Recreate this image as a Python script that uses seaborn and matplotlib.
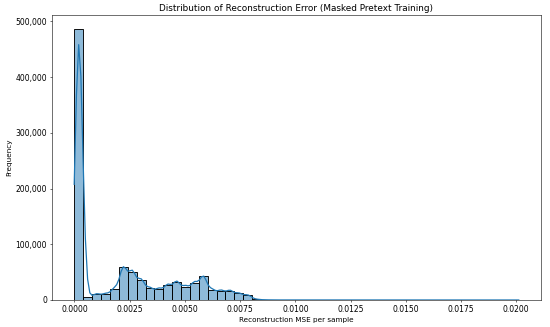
import numpy as np
import pandas as pd
import seaborn as sns
import matplotlib
matplotlib.use("Agg")
import matplotlib.pyplot as plt
from matplotlib.ticker import StrMethodFormatter

# ------------------------------- datos (leidos) ------------------------------ #
X_MIN = 0.0
X_MAX = 0.0201
N_BINS = 50

# cuentas por bin
conteos = [
    487000, 5000, 11000, 11000, 20000, 59000, 51000, 36000, 21000, 20000,
    27000, 33000, 24000, 31000, 43000, 18000, 17000, 17000, 12000, 9000,
    1200, 300, 120, 80, 60, 40, 30, 25, 20, 15,
    12, 10, 8, 6, 5, 4, 4, 3, 3, 2,
    2, 2, 1, 1, 1, 1, 1, 1, 1, 1,
]

TITULO = "Distribution of Reconstruction Error (Masked Pretext Training)"
LABEL_X = "Reconstruction MSE per sample"
LABEL_Y = "Frequency"

# ------------------------------- grafico ------------------------------------- #
bordes = np.linspace(X_MIN, X_MAX, N_BINS + 1)
centros = (bordes[:-1] + bordes[1:]) / 2
df = pd.DataFrame({"mse": centros, "n": conteos})

fig, ax = plt.subplots(figsize=(11, 6.54), dpi=50)
sns.histplot(data=df, x="mse", weights="n", bins=list(bordes), kde=True,
             kde_kws={"bw_adjust": 0.08, "cut": 1}, edgecolor="black",
             linewidth=1.3, line_kws={"linewidth": 1.8}, ax=ax)

ax.set_title(TITULO, fontsize=12.8)
ax.set_xlabel(LABEL_X, fontsize=10.5)
ax.set_ylabel(LABEL_Y, fontsize=10.5)
ax.tick_params(labelsize=11)
ax.yaxis.set_major_formatter(StrMethodFormatter("{x:,.0f}"))
ax.xaxis.set_major_formatter(StrMethodFormatter("{x:.4f}"))

plt.subplots_adjust(left=0.0945, right=0.9836, top=0.954, bottom=0.0826)
plt.savefig("out.png")
